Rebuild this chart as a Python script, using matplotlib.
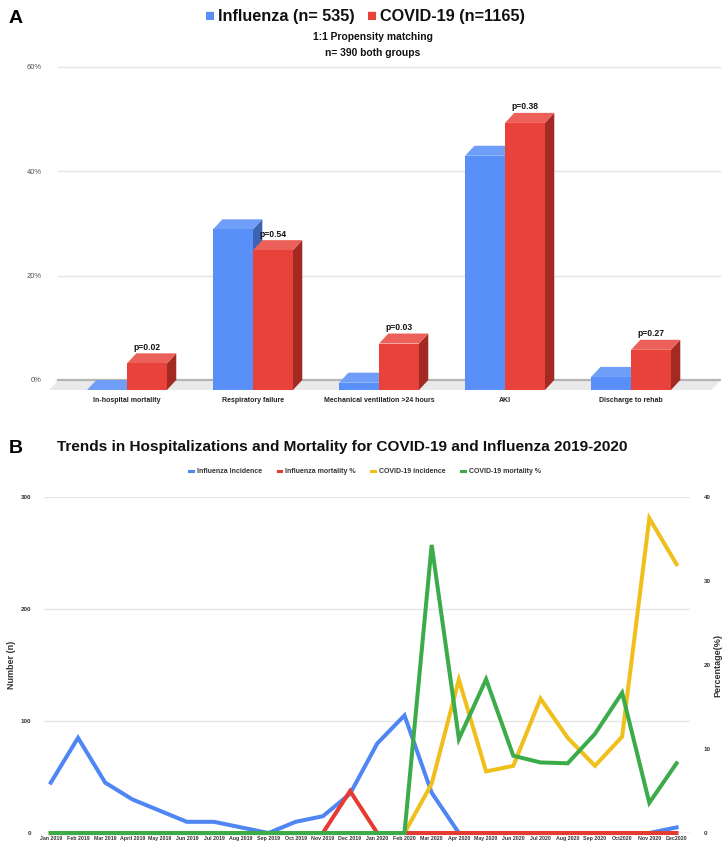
import matplotlib
matplotlib.use("Agg")
import matplotlib.pyplot as plt
from matplotlib.patches import Polygon
from matplotlib.lines import Line2D
from matplotlib import font_manager

plt.rcParams['font.family'] = ['Liberation Sans', 'DejaVu Sans']
names = {f.name for f in font_manager.fontManager.ttflist}
NARROW = 'Liberation Sans Narrow' in names
NF = ['Liberation Sans Narrow', 'Liberation Sans', 'DejaVu Sans'] if NARROW else ['Liberation Sans', 'DejaVu Sans']
k = 1.0 if NARROW else 0.82

# ---------------- Data ----------------
categories = ["In-hospital mortality", "Respiratory failure", "Mechanical ventilation >24 hours", "AKI", "Discharge to rehab"]
influenza_pct = [0.0, 30.8, 1.4, 44.9, 2.5]
covid_pct = [5.1, 26.8, 8.9, 51.2, 7.7]
p_values = ["p=0.02", "p=0.54", "p=0.03", "p=0.38", "p=0.27"]
yticks_a = [0, 20, 40, 60]

months = ["Jan 2019", "Feb 2019", "Mar 2019", "April 2019", "May 2019", "Jun 2019", "Jul 2019", "Aug 2019",
          "Sep 2019", "Oct 2019", "Nov 2019", "Dec 2019", "Jan 2020", "Feb 2020", "Mar 2020", "Apr 2020",
          "May 2020", "Jun 2020", "Jul 2020", "Aug 2020", "Sep 2020", "Oct2020", "Nov 2020", "Dec2020"]
flu_incidence = [45, 85, 45, 30, 20, 10, 10, 5, 0, 10, 15, 35, 80, 105, 36, 0, 0, 0, 0, 0, 0, 0, 0, 5]
flu_mortality = [0, 0, 0, 0, 0, 0, 0, 0, 0, 0, 0, 5.0, 0, 0, 0, 0, 0, 0, 0, 0, 0, 0, 0, 0]
covid_incidence = [0, 0, 0, 0, 0, 0, 0, 0, 0, 0, 0, 0, 0, 0, 44, 137, 55, 60, 120, 85, 60, 86, 281, 240]
covid_mortality = [0, 0, 0, 0, 0, 0, 0, 0, 0, 0, 0, 0, 0, 0, 34.3, 11.2, 18.3, 9.2, 8.4, 8.3, 11.8, 16.7, 3.6, 8.3]
yticks_left = [0, 100, 200, 300]
yticks_right = [0, 10, 20, 30, 40]

BLUE, BLUE_TOP, BLUE_SIDE = '#588ff8', '#6f9ef8', '#3d63b3'
RED, RED_TOP, RED_SIDE = '#e8423a', '#eb6059', '#a32a22'

fig = plt.figure(figsize=(7.26, 8.47), dpi=100)

# ---------------- Panel A ----------------
axA = fig.add_axes([0.0675, 0.536, 0.9256, 0.388])
x0, x1 = -0.619, 4.714
axA.set_xlim(x0, x1)
axA.set_ylim(-2.5, 60.5)
for s in axA.spines.values():
    s.set_visible(False)
w = 0.317
dx, dy = 0.074, 1.92

for g in [20, 40, 60]:
    axA.plot([x0 + dx, x1], [g, g], color='#e3e3e3', lw=1.0, zorder=1)
axA.add_patch(Polygon([(x0, -dy), (x1 - dx, -dy), (x1, 0), (x0 + dx, 0)], closed=True,
                      facecolor='#e9e9e9', edgecolor='none', zorder=1))
axA.plot([x0 + dx, x1], [0, 0], color='#b5b5b5', lw=1.6, zorder=2)


def bar3d(ax, left, v, c_front, c_top, c_side, z):
    ax.add_patch(Polygon([(left + w, -dy), (left + w + dx, 0), (left + w + dx, v), (left + w, v - dy)],
                         closed=True, facecolor=c_side, edgecolor='none', zorder=z))
    ax.add_patch(Polygon([(left, v - dy), (left + w, v - dy), (left + w + dx, v), (left + dx, v)],
                         closed=True, facecolor=c_top, edgecolor='none', zorder=z))
    ax.add_patch(Polygon([(left, -dy), (left + w, -dy), (left + w, v - dy), (left, v - dy)],
                         closed=True, facecolor=c_front, edgecolor='none', zorder=z))


for i, (fv, cv, p) in enumerate(zip(influenza_pct, covid_pct, p_values)):
    bar3d(axA, i - w, fv, BLUE, BLUE_TOP, BLUE_SIDE, 3 + 2 * i)
    bar3d(axA, i, cv, RED, RED_TOP, RED_SIDE, 4 + 2 * i)
    axA.text(i + w / 2, cv + 0.3, p, ha='center', va='bottom', fontsize=7.5 * k, fontweight='bold',
             family=NF, color='#111111', zorder=20)

axA.set_yticks(yticks_a)
axA.set_yticklabels([f"{t}%" for t in yticks_a], fontsize=5.5, color='#555555')
axA.set_xticks(range(len(categories)))
axA.set_xticklabels(categories, fontsize=6.2 * k, fontweight='bold', family=NF, color='#222222')
axA.tick_params(axis='y', length=0, pad=5)
axA.tick_params(axis='x', length=0, pad=3)

fig.text(0.012, 0.978, "A", fontsize=14, fontweight='bold', ha='left', va='center')
# legend line for panel A
fig.text(0.289, 0.980, "\u25A0", color=BLUE, fontsize=12, ha='center', va='center')
fig.text(0.300, 0.980, "Influenza (n= 535)", fontsize=14.3 * k, fontweight='bold', family=NF,
         ha='left', va='center', color='#111111')
fig.text(0.512, 0.980, "\u25A0", color=RED, fontsize=12, ha='center', va='center')
fig.text(0.524, 0.980, "COVID-19 (n=1165)", fontsize=14.3 * k, fontweight='bold', family=NF,
         ha='left', va='center', color='#111111')
fig.text(0.513, 0.956, "1:1 Propensity matching", fontsize=9 * k, fontweight='bold', family=NF,
         ha='center', va='center', color='#111111')
fig.text(0.513, 0.938, "n= 390 both groups", fontsize=9 * k, fontweight='bold', family=NF,
         ha='center', va='center', color='#111111')

# ---------------- Panel B ----------------
axB = fig.add_axes([0.0606, 0.0165, 0.890, 0.3967])
ax2 = axB.twinx()
x = list(range(len(months)))
axB.set_xlim(-0.25, 23.5)
axB.set_ylim(0, 300)
ax2.set_ylim(0, 40)
for a in (axB, ax2):
    for s in a.spines.values():
        s.set_visible(False)
for g in [100, 200, 300]:
    axB.axhline(g, color='#e6e6e6', lw=1.0, zorder=0)
axB.axhline(0, color='#b0b0b0', lw=1.0, zorder=0)

C_BLUE, C_RED, C_YEL, C_GRN = '#4f86f4', '#e53b30', '#f0bf1b', '#3cac4a'
LW = 2.9
axB.plot(x, flu_incidence, color=C_BLUE, lw=LW, clip_on=False, solid_joinstyle='miter', zorder=3)
axB.plot(x, covid_incidence, color=C_YEL, lw=LW, clip_on=False, solid_joinstyle='miter', zorder=4)
ax2.plot(x, flu_mortality, color=C_RED, lw=LW, clip_on=False, solid_joinstyle='miter', zorder=3)
ax2.plot(x, covid_mortality, color=C_GRN, lw=LW, clip_on=False, solid_joinstyle='miter', zorder=4)
ax2.set_xlim(-0.25, 23.5)

axB.set_xticks(x)
axB.set_xticklabels(months, fontsize=4.6 * k, fontweight='bold', family=NF, color='#333333')
axB.set_yticks(yticks_left)
axB.set_yticklabels([str(t) for t in yticks_left], fontsize=4.5, fontweight='bold', color='#333333')
ax2.set_yticks(yticks_right)
ax2.set_yticklabels([str(t) for t in yticks_right], fontsize=4.5, fontweight='bold', color='#333333')
axB.tick_params(axis='both', length=0)
axB.tick_params(axis='y', pad=9)
axB.tick_params(axis='x', pad=2)
ax2.tick_params(axis='y', length=0, pad=10)
axB.set_ylabel("Number (n)", fontsize=6.5, fontweight='bold', color='#333333')
ax2.set_ylabel("Percentage(%)", fontsize=6.5, fontweight='bold', color='#333333', rotation=90)
axB.yaxis.set_label_coords(-0.043, 0.5)
ax2.yaxis.set_label_coords(1.036, 0.5)

fig.text(0.012, 0.471, "B", fontsize=14, fontweight='bold', ha='left', va='center')
fig.text(0.472, 0.472, "Trends in Hospitalizations and Mortality for COVID-19 and Influenza 2019-2020",
         fontsize=13.5 * k, fontweight='bold', family=NF, ha='center', va='center', color='#111111')

handles = [Line2D([], [], color=c, lw=2.2) for c in (C_BLUE, C_RED, C_YEL, C_GRN)]
labels = ["Influenza Incidence", "Influenza mortality %", "COVID-19 incidence", "COVID-19 mortality %"]
leg = fig.legend(handles, labels, loc='center', bbox_to_anchor=(0.503, 0.443), ncol=4, frameon=False,
                 prop={'size': 6.2 * k, 'weight': 'bold', 'family': NF}, handlelength=0.5,
                 handletextpad=0.6, columnspacing=2.2)
for t in leg.get_texts():
    t.set_color('#333333')

fig.savefig("out.png", dpi=100)
